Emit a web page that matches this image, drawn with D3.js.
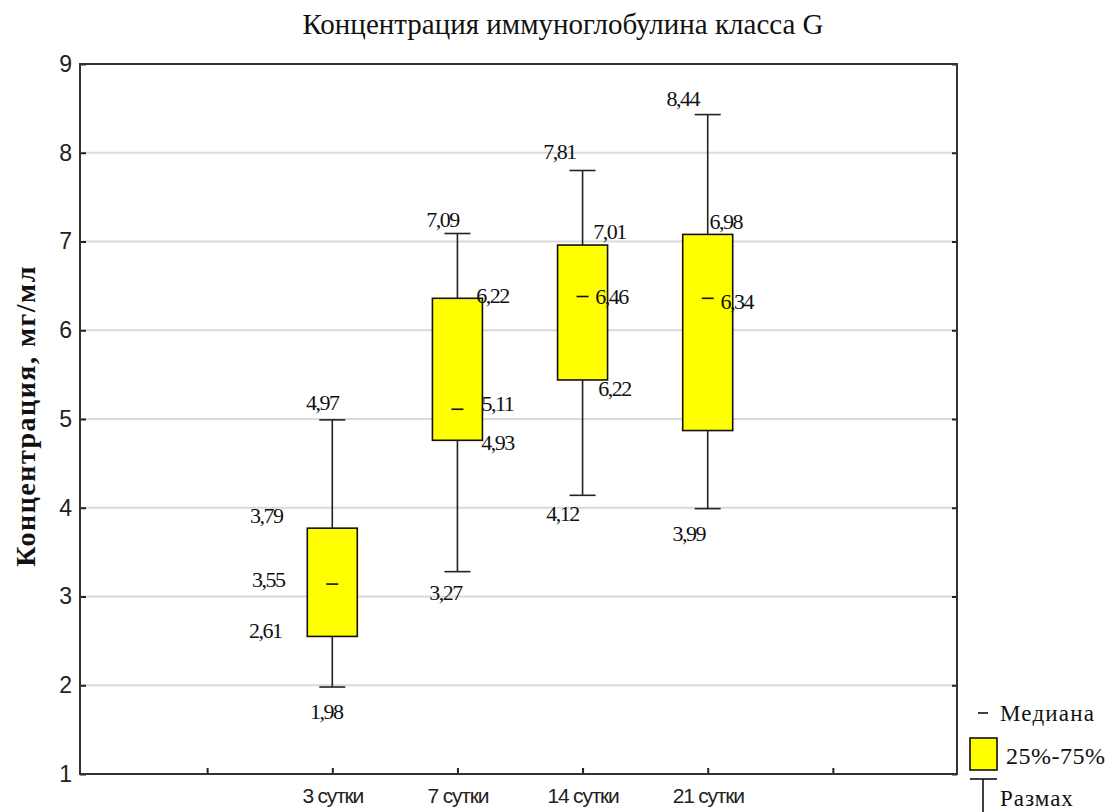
<!DOCTYPE html>
<html>
<head>
<meta charset="utf-8">
<script src="https://cdn.jsdelivr.net/npm/d3@7"></script>
<style>
  body { margin: 0; background: #fff; }
</style>
</head>
<body>
<script>
// categories on the x axis (blank slots at both ends, as in the original)
const categories = ["", "3 сутки", "7 сутки", "14 сутки", "21 сутки", ""];
const groups = ["3 сутки", "7 сутки", "14 сутки", "21 сутки"];

// drawn box values, mg/ml
const mins    = [1.98, 3.28, 4.14, 3.99];
const q1s     = [2.55, 4.76, 5.44, 4.87];
const medians = [3.14, 5.11, 6.38, 6.36];
const q3s     = [3.77, 6.36, 6.96, 7.08];
const maxs    = [4.99, 7.09, 7.80, 8.43];

// numbers printed next to the boxes
const maxLabels    = ["4,97", "7,09", "7,81", "8,44"];
const q3Labels     = ["3,79", "6,22", "7,01", "6,98"];
const medianLabels = ["3,55", "5,11", "6,46", "6,34"];
const q1Labels     = ["2,61", "4,93", "6,22", null];
const minLabels    = ["1,98", "3,27", "4,12", "3,99"];

const yTicks = [1, 2, 3, 4, 5, 6, 7, 8, 9];

const W = 1111, H = 812;
const mLeft = 80, mRight = 957, mTop = 64, mBottom = 774;
const serif = "'Liberation Serif', 'Times New Roman', serif";
const sans = "'Liberation Sans', Arial, sans-serif";

const svg = d3.select("body").append("svg")
  .attr("width", W)
  .attr("height", H);

const x = d3.scaleLinear().domain([0, categories.length + 1]).range([mLeft + 2, mRight + 1]);
const y = d3.scaleLinear().domain([1, 9]).range([mBottom, mTop]);

// grid
svg.append("g")
  .selectAll("line")
  .data(yTicks.slice(1, -1))
  .enter()
  .append("line")
  .attr("x1", mLeft + 1)
  .attr("x2", mRight - 1)
  .attr("y1", d => y(d))
  .attr("y2", d => y(d))
  .attr("stroke", "#dadada")
  .attr("stroke-width", 2);

// left axis, ticks pointing inside
const yAxis = svg.append("g")
  .attr("transform", "translate(" + mLeft + ",0)")
  .call(d3.axisLeft(y).tickValues(yTicks).tickSizeInner(-6).tickSizeOuter(0).tickPadding(8).tickFormat(d3.format("d")));
yAxis.select(".domain").remove();
yAxis.selectAll("line").attr("stroke", "#222").attr("stroke-width", 2);
yAxis.selectAll("text")
  .style("font-family", sans)
  .style("font-size", "23px")
  .attr("fill", "#222");

// right axis ticks
const yAxisR = svg.append("g")
  .attr("transform", "translate(" + mRight + ",0)")
  .call(d3.axisRight(y).tickValues(yTicks).tickSizeInner(-5).tickSizeOuter(0).tickFormat(""));
yAxisR.select(".domain").remove();
yAxisR.selectAll("line").attr("stroke", "#222").attr("stroke-width", 2);

// bottom axis
const xAxis = svg.append("g")
  .attr("transform", "translate(0," + mBottom + ")")
  .call(d3.axisBottom(x)
    .tickValues(d3.range(1, categories.length + 1))
    .tickSizeInner(-6).tickSizeOuter(0).tickPadding(14)
    .tickFormat(d => categories[d - 1]));
xAxis.select(".domain").remove();
xAxis.selectAll("line").attr("stroke", "#222").attr("stroke-width", 2);
xAxis.selectAll("text")
  .style("font-family", sans)
  .style("font-size", "21px")
  .style("letter-spacing", "-1.2px")
  .attr("fill", "#222");

// frame
svg.append("rect")
  .attr("x", mLeft)
  .attr("y", mTop)
  .attr("width", mRight - mLeft)
  .attr("height", mBottom - mTop)
  .attr("fill", "none")
  .attr("stroke", "#333")
  .attr("stroke-width", 2);

// boxes
const boxW = 50, capW = 26;
const cx = i => x(categories.indexOf(groups[i]) + 1);

const box = svg.append("g")
  .selectAll("g")
  .data(groups)
  .enter()
  .append("g");

box.append("line")
  .attr("x1", (d, i) => cx(i))
  .attr("x2", (d, i) => cx(i))
  .attr("y1", (d, i) => y(maxs[i]))
  .attr("y2", (d, i) => y(mins[i]))
  .attr("stroke", "#222")
  .attr("stroke-width", 1.6);

box.append("line")
  .attr("x1", (d, i) => cx(i) - capW / 2)
  .attr("x2", (d, i) => cx(i) + capW / 2)
  .attr("y1", (d, i) => y(maxs[i]))
  .attr("y2", (d, i) => y(maxs[i]))
  .attr("stroke", "#222")
  .attr("stroke-width", 1.6);

box.append("line")
  .attr("x1", (d, i) => cx(i) - capW / 2)
  .attr("x2", (d, i) => cx(i) + capW / 2)
  .attr("y1", (d, i) => y(mins[i]))
  .attr("y2", (d, i) => y(mins[i]))
  .attr("stroke", "#222")
  .attr("stroke-width", 1.6);

box.append("rect")
  .attr("x", (d, i) => cx(i) - boxW / 2)
  .attr("y", (d, i) => y(q3s[i]))
  .attr("width", boxW)
  .attr("height", (d, i) => y(q1s[i]) - y(q3s[i]))
  .attr("fill", "#ffff00")
  .attr("stroke", "#111")
  .attr("stroke-width", 1.6);

box.append("line")
  .attr("x1", (d, i) => cx(i) - 6)
  .attr("x2", (d, i) => cx(i) + 6)
  .attr("y1", (d, i) => y(medians[i]))
  .attr("y2", (d, i) => y(medians[i]))
  .attr("stroke", "#111")
  .attr("stroke-width", 1.6);

// value labels: offsets from the mark they belong to, per box
const labelOffsets = {
  max:    [[-10, -17], [-15, -14], [-23, -19], [-25, -16]],
  q3:     [[-66, -12], [35, -2], [27, -13], [18, -12]],
  median: [[-64, -4], [40, -5], [29, 0], [29, 4]],
  q1:     [[-67, -5], [40, 3], [32, 9], [0, 0]],
  min:    [[-6, 25], [-12, 21], [-20, 19], [-19, 25]]
};
const labelSets = [
  ["max", maxs, maxLabels],
  ["q3", q3s, q3Labels],
  ["median", medians, medianLabels],
  ["q1", q1s, q1Labels],
  ["min", mins, minLabels]
];

labelSets.forEach(function([key, values, texts]) {
  const items = texts.map((t, i) => ({ t: t, i: i })).filter(o => o.t !== null);
  svg.append("g")
    .selectAll("text")
    .data(items)
    .enter()
    .append("text")
    .attr("x", d => cx(d.i) + labelOffsets[key][d.i][0])
    .attr("y", d => y(values[d.i]) + labelOffsets[key][d.i][1] + 7)
    .attr("text-anchor", "middle")
    .style("font-family", serif)
    .style("font-size", "22px")
    .style("letter-spacing", "-1.5px")
    .attr("fill", "#111")
    .text(d => d.t);
});

// title
svg.append("text")
  .attr("x", 563)
  .attr("y", 34)
  .attr("text-anchor", "middle")
  .style("font-family", serif)
  .style("font-size", "29px")
  .attr("fill", "#111")
  .text("Концентрация иммуноглобулина класса G");

// y axis title
svg.append("text")
  .attr("transform", "translate(35," + 416 + ")rotate(-90)")
  .attr("text-anchor", "middle")
  .style("font-family", serif)
  .style("font-size", "28px")
  .style("font-weight", "bold")
  .style("letter-spacing", "1.5px")
  .attr("fill", "#111")
  .text("Концентрация, мг/мл");

// legend
const legend = svg.append("g");
legend.append("line")
  .attr("x1", 978).attr("x2", 988)
  .attr("y1", 713).attr("y2", 713)
  .attr("stroke", "#111").attr("stroke-width", 1.6);
legend.append("text")
  .attr("x", 1000).attr("y", 721)
  .style("font-family", serif)
  .style("font-size", "23px")
  .style("letter-spacing", "1.2px")
  .attr("fill", "#111")
  .text("Медиана");
legend.append("rect")
  .attr("x", 970).attr("y", 738)
  .attr("width", 27).attr("height", 32)
  .attr("fill", "#ffff00")
  .attr("stroke", "#111").attr("stroke-width", 1.6);
legend.append("text")
  .attr("x", 1006).attr("y", 764)
  .style("font-family", serif)
  .style("font-size", "24px")
  .style("letter-spacing", "0.5px")
  .attr("fill", "#111")
  .text("25%-75%");
legend.append("line")
  .attr("x1", 970).attr("x2", 997)
  .attr("y1", 779).attr("y2", 779)
  .attr("stroke", "#111").attr("stroke-width", 1.6);
legend.append("line")
  .attr("x1", 983).attr("x2", 983)
  .attr("y1", 779).attr("y2", 815)
  .attr("stroke", "#111").attr("stroke-width", 1.6);
legend.append("text")
  .attr("x", 1000).attr("y", 806)
  .style("font-family", serif)
  .style("font-size", "23px")
  .style("letter-spacing", "1px")
  .attr("fill", "#111")
  .text("Размах");
</script>
</body>
</html>
